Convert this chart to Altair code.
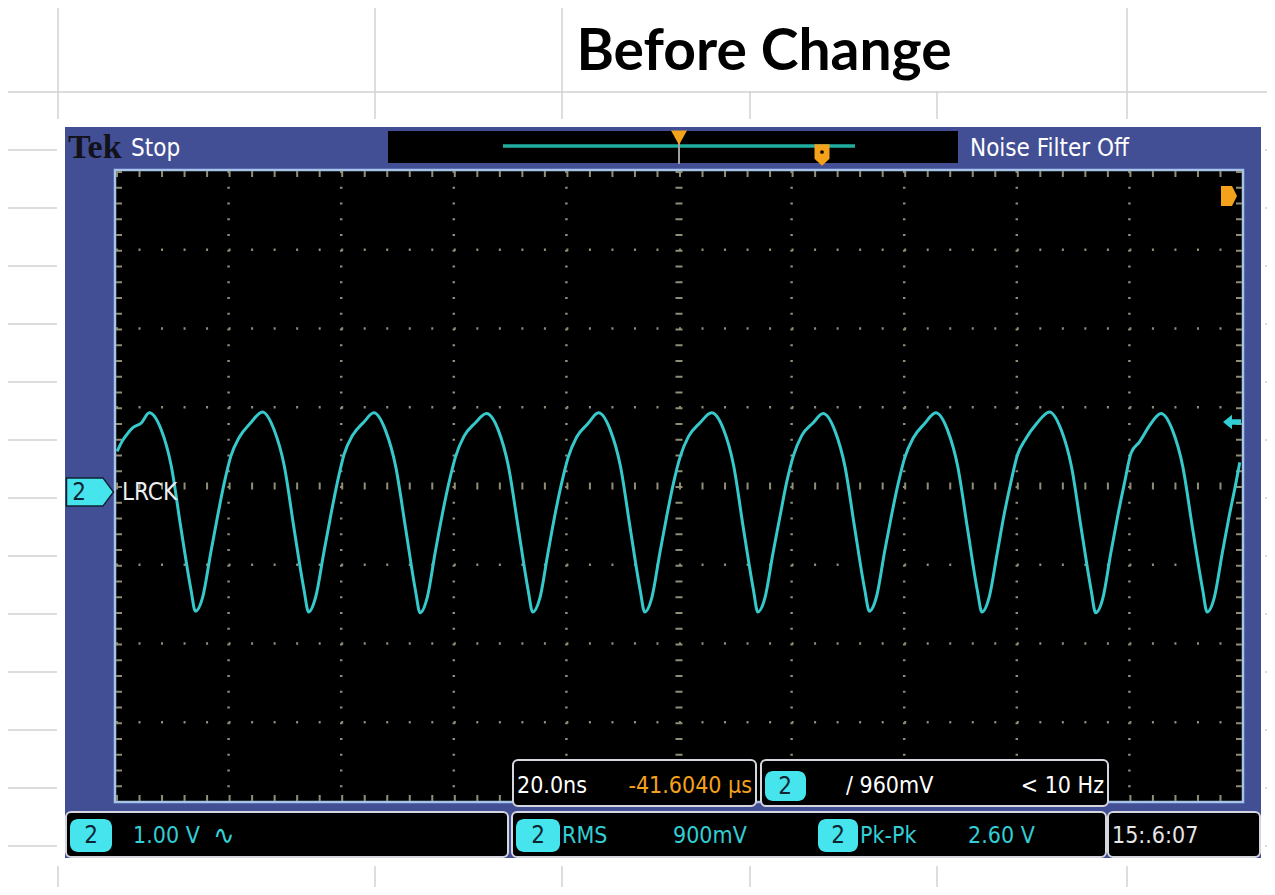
import altair as alt
import pandas as pd

# Channel 2 (LRCK) trace: time in ns (20 ns/div), level in V (1 V/div, 0 = screen centre)
trace_t = [
    -99.8, -98.8, -97.9, -97.0, -95.5,
    -94.1, -92.0, -90.2, -88.5, -86.7, -85.9, -84.6, -83.2, -82.0, -80.8, -79.6, -78.1, -76.1,
    -74.0, -71.9, -70.1, -68.4, -66.6, -65.8, -64.5, -63.1, -61.9, -60.7, -59.5, -58.0, -56.0,
    -54.2, -52.1, -50.3, -48.6, -46.8, -46.0, -44.7, -43.3, -42.1, -40.9, -39.7, -38.2, -36.2,
    -34.2, -32.1, -30.3, -28.6, -26.8, -26.0, -24.7, -23.3, -22.1, -20.9, -19.7, -18.2, -16.2,
    -14.3, -12.2, -10.4, -8.7, -6.9, -6.1, -4.8, -3.4, -2.2, -1.0, 0.2, 1.7, 3.7,
    5.8, 7.9, 9.7, 11.4, 13.2, 14.0, 15.3, 16.7, 17.9, 19.1, 20.3, 21.8, 23.8,
    25.6, 27.7, 29.5, 31.2, 33.0, 33.8, 35.1, 36.5, 37.7, 38.9, 40.1, 41.6, 43.6,
    45.6, 47.7, 49.5, 51.2, 53.0, 53.8, 55.1, 56.5, 57.7, 58.9, 60.1, 61.6, 63.6,
    65.8, 67.9, 69.7, 71.4, 73.2, 74.0, 75.3, 76.7, 77.9, 79.1, 80.3, 81.8, 83.8,
    85.6, 87.7, 89.5, 91.2, 93.0, 93.8, 95.1, 96.5, 97.7, 98.9, 99.6,
]
trace_v = [
    0.44, 0.58, 0.67, 0.74, 0.80,
    0.93, 0.72, 0.26, -0.52, -1.31, -1.59, -1.41, -0.86, -0.40, 0.03, 0.38, 0.62, 0.80,
    0.94, 0.71, 0.25, -0.53, -1.32, -1.60, -1.40, -0.85, -0.39, 0.04, 0.40, 0.64, 0.81,
    0.93, 0.70, 0.24, -0.52, -1.33, -1.61, -1.41, -0.84, -0.38, 0.03, 0.37, 0.63, 0.80,
    0.92, 0.71, 0.25, -0.51, -1.32, -1.60, -1.42, -0.86, -0.39, 0.02, 0.36, 0.62, 0.79,
    0.93, 0.71, 0.25, -0.52, -1.32, -1.60, -1.41, -0.85, -0.39, 0.03, 0.37, 0.63, 0.80,
    0.93, 0.72, 0.26, -0.52, -1.31, -1.60, -1.41, -0.85, -0.40, 0.04, 0.38, 0.64, 0.80,
    0.92, 0.70, 0.24, -0.53, -1.32, -1.59, -1.40, -0.84, -0.39, 0.02, 0.36, 0.61, 0.79,
    0.93, 0.71, 0.25, -0.52, -1.33, -1.60, -1.41, -0.86, -0.38, 0.03, 0.39, 0.60, 0.80,
    0.94, 0.71, 0.25, -0.52, -1.32, -1.61, -1.42, -0.85, -0.39, 0.03, 0.42, 0.56, 0.79,
    0.92, 0.70, 0.24, -0.53, -1.31, -1.60, -1.41, -0.85, -0.39, 0.03, 0.30,
]

# graticule divisions
div_t = [-80, -60, -40, -20, 20, 40, 60, 80]
div_v = [-3, -2, -1, 1, 2, 3]

# read-outs
title_text = "Before Change"
status_labels = ["Stop", "Noise Filter Off"]
channel_label = "LRCK"
timebase_labels = ["20.0ns", "-41.6040 µs"]
trigger_labels = ["/ 960mV", "< 10 Hz"]
meas_labels = ["1.00 V", "∿", "RMS", "900mV", "Pk-Pk", "2.60 V"]
clock_label = "15:.6:07"

# ---------------- layout (page pixels) ----------------
W, H = 1259, 879
NARROW = "Liberation Sans Narrow, DejaVu Sans Condensed, sans-serif"
BLUE = "#434f95"
CYAN = "#33cdd4"
BADGE = "#46e4ec"
ORANGE = "#f4a11c"
GRID = "#8f8f78"

PX = alt.Scale(domain=[8, 8 + W], range=[0, W], nice=False, zero=False)
PY = alt.Scale(domain=[8, 8 + H], range=[0, H], nice=False, zero=False)
TX = alt.Scale(domain=[-100, 100], range=[116 - 8, 1242 - 8], nice=False, zero=False)
TY = alt.Scale(domain=[-4, 4], range=[801 - 8, 171 - 8], nice=False, zero=False)


def rects(rows, **mark):
    df = pd.DataFrame(rows, columns=["x0", "x1", "y0", "y1", "fill"])
    return alt.Chart(df).mark_rect(**mark).encode(
        x=alt.X("x0:Q", scale=PX, axis=None), x2="x1:Q",
        y=alt.Y("y0:Q", scale=PY, axis=None), y2="y1:Q",
        fill=alt.Fill("fill:N", scale=None))


def rules(rows, **mark):
    df = pd.DataFrame(rows, columns=["x0", "x1", "y0", "y1"])
    return alt.Chart(df).mark_rule(**mark).encode(
        x=alt.X("x0:Q", scale=PX, axis=None), x2="x1:Q",
        y=alt.Y("y0:Q", scale=PY, axis=None), y2="y1:Q")


def texts(rows, **mark):
    df = pd.DataFrame(rows, columns=["text", "x", "y", "color", "size"])
    return alt.Chart(df).mark_text(**mark).encode(
        x=alt.X("x:Q", scale=PX, axis=None),
        y=alt.Y("y:Q", scale=PY, axis=None),
        text="text:N",
        color=alt.Color("color:N", scale=None),
        size=alt.Size("size:Q", scale=None))


def symbols(rows, shape, **mark):
    df = pd.DataFrame(rows, columns=["x", "y", "color", "size"])
    return alt.Chart(df).mark_point(shape=shape, filled=True, opacity=1, **mark).encode(
        x=alt.X("x:Q", scale=PX, axis=None),
        y=alt.Y("y:Q", scale=PY, axis=None),
        color=alt.Color("color:N", scale=None),
        size=alt.Size("size:Q", scale=None))


# spreadsheet cells behind the screenshot
excel_rows = [92, 150, 208, 266, 324, 382, 440, 498, 556, 614, 672, 730, 788, 846]
excel_cols = [58, 375, 562, 750, 937, 1127]
sheet = rules([(0, 1275, y, y) for y in excel_rows] + [(x, x, 0, 895) for x in excel_cols],
              color="#d2d2d2", strokeWidth=1.5)
title_cell = rects([(564, 1125, 0, 91, "white")])
title = texts([(title_text, 764, 70, "black", 57)],
              font="Lato", fontWeight="bold", align="center", baseline="alphabetic")

# scope bezel
bezel = rects([(57, 1265, 119, 866, "white"), (65, 1261, 127, 858, BLUE)])
topbar = rects([(388, 958, 131, 163, "black")])
ruler = rules([(503, 855, 146, 146)], color="#1fae9f", strokeWidth=3.5)
trig_line = rules([(679, 679, 131, 164)], color="#a0a0a0", strokeWidth=2)
tri_down = "M-1,-0.8 L1,-0.8 L0,1 Z"
shield = "M-0.7,-1 L0.7,-1 L0.7,0.35 L0,1 L-0.7,0.35 Z"
tab_right = "M-0.8,-1 L0.3,-1 L0.8,0 L0.3,1 L-0.8,1 Z"
markers_o = symbols([(679, 137, ORANGE, 256), (679, 177, ORANGE, 256)], tri_down)
shield_o = symbols([(822, 155, ORANGE, 460)], shield)
tab_o = symbols([(1229, 196, ORANGE, 400)], tab_right)
holes = symbols([(822, 152, "black", 14), (1227, 194, "black", 14)], "circle")
tek = texts([("Tek", 68, 148, "#12121a", 34)], font="Liberation Serif", fontWeight="bold",
            align="left", baseline="middle")
status = texts([(status_labels[0], 131, 149, "white", 24),
                (status_labels[1], 970, 149, "white", 24)],
               font=NARROW, align="left", baseline="middle")

screen = rects([(115, 1243, 170, 802, "black")], stroke="#a6c3ea", strokeWidth=2.5)

# graticule, in screen units
vdots = alt.Chart(pd.DataFrame({"t": div_t, "top": 4, "bot": -4})).mark_rule(
    color=GRID, strokeWidth=2.5, strokeDash=[2, 13.75]).encode(
    x=alt.X("t:Q", scale=TX, axis=None), y=alt.Y("top:Q", scale=TY, axis=None), y2="bot:Q")
hdots = alt.Chart(pd.DataFrame({"v": div_v, "left": -100, "right": 100})).mark_rule(
    color=GRID, strokeWidth=2.5, strokeDash=[2, 20.52]).encode(
    y=alt.Y("v:Q", scale=TY, axis=None), x=alt.X("left:Q", scale=TX, axis=None), x2="right:Q")
vcentre = alt.Chart(pd.DataFrame({"t": [0], "top": [4], "bot": [-4]})).mark_rule(
    color=GRID, strokeWidth=7, strokeDash=[2, 13.75]).encode(
    x=alt.X("t:Q", scale=TX, axis=None), y=alt.Y("top:Q", scale=TY, axis=None), y2="bot:Q")
hcentre = alt.Chart(pd.DataFrame({"v": [0], "left": [-100], "right": [100]})).mark_rule(
    color=GRID, strokeWidth=7, strokeDash=[2, 20.52]).encode(
    y=alt.Y("v:Q", scale=TY, axis=None), x=alt.X("left:Q", scale=TX, axis=None), x2="right:Q")
edge_layers = []
for v, off in [(4, 3), (-4, -3)]:
    edge_layers.append(alt.Chart(pd.DataFrame({"v": [v], "left": [-100], "right": [100]})).mark_rule(
        color=GRID, strokeWidth=6, yOffset=off, strokeDash=[2, 20.52]).encode(
        y=alt.Y("v:Q", scale=TY, axis=None), x=alt.X("left:Q", scale=TX, axis=None), x2="right:Q"))
for t, off in [(-100, 3), (100, -3)]:
    edge_layers.append(alt.Chart(pd.DataFrame({"t": [t], "top": [4], "bot": [-4]})).mark_rule(
        color=GRID, strokeWidth=6, xOffset=off, strokeDash=[2, 13.75]).encode(
        x=alt.X("t:Q", scale=TX, axis=None), y=alt.Y("top:Q", scale=TY, axis=None), y2="bot:Q"))

trace = alt.Chart(pd.DataFrame({"t": trace_t, "v": trace_v})).mark_line(
    color="#36c8ca", strokeWidth=3, interpolate="monotone").encode(
    x=alt.X("t:Q", scale=TX, axis=None), y=alt.Y("v:Q", scale=TY, axis=None))

# channel marker, trigger level arrow
ch_marker = symbols([(90, 492, BADGE, 2209)], "M-1,-0.6 L0.55,-0.6 L1,0 L0.55,0.6 L-1,0.6 Z",
                    stroke="#0e2430", strokeWidth=1.5)
lvl_arrow = symbols([(1232, 422, CYAN, 324)],
                    "M-1,0 L0,-0.8 L0,-0.3 L1,-0.3 L1,0.3 L0,0.3 L0,0.8 Z")
ch_text = texts([(channel_label, 122, 493, "#eeeeee", 24)], font=NARROW, align="left", baseline="middle")

# read-out boxes
boxes = rects([(513, 756, 760, 806, "black"), (761, 1108, 760, 806, "black"),
               (66, 508, 812, 857, "black"), (512, 1106, 812, 857, "black"),
               (1108, 1260, 812, 857, "black")],
              stroke="#d6d6de", strokeWidth=2, cornerRadius=5)
badges = rects([(765, 806, 771, 801, BADGE), (70, 112, 819, 852, BADGE),
                (516, 560, 819, 852, BADGE), (818, 858, 819, 852, BADGE)],
               cornerRadius=8)
badge_digits = texts([("2", 785, 787, "#0d2633", 24), ("2", 91, 836, "#0d2633", 24),
                      ("2", 538, 836, "#0d2633", 24), ("2", 838, 836, "#0d2633", 24),
                      ("2", 79, 493, "#0d2633", 24)],
                     font=NARROW, align="center", baseline="middle")
left_texts = texts([(timebase_labels[0], 517, 786, "white", 23),
                    (trigger_labels[0], 846, 786, "white", 23),
                    (meas_labels[0], 133, 836, CYAN, 23),
                    (meas_labels[2], 562, 836, CYAN, 23),
                    (meas_labels[3], 673, 836, CYAN, 23),
                    (meas_labels[4], 860, 836, CYAN, 23),
                    (meas_labels[5], 968, 836, CYAN, 23),
                    (clock_label, 1112, 836, "#e6e6e6", 23)],
                   font=NARROW, align="left", baseline="middle")
wave_icon = texts([(meas_labels[1], 213, 836, CYAN, 26)], font="DejaVu Sans",
                  align="left", baseline="middle")
right_texts = texts([(timebase_labels[1], 752, 786, ORANGE, 23),
                     (trigger_labels[1], 1104, 786, "white", 23)],
                    font=NARROW, align="right", baseline="middle")

chart = alt.layer(
    sheet, title_cell, title, bezel, topbar, ruler, trig_line, markers_o, shield_o,
    holes, tek, status, screen, vdots, hdots, vcentre, hcentre, *edge_layers, trace,
    tab_o, ch_marker, lvl_arrow, ch_text, boxes, badges, badge_digits,
    left_texts, wave_icon, right_texts,
).resolve_scale(
    x="independent", y="independent"
).properties(
    width=W, height=H, autosize="none", padding=0, background="white"
).configure_view(
    strokeWidth=0
)

chart.save("out.html", embed_options={"renderer": "svg", "actions": False})
